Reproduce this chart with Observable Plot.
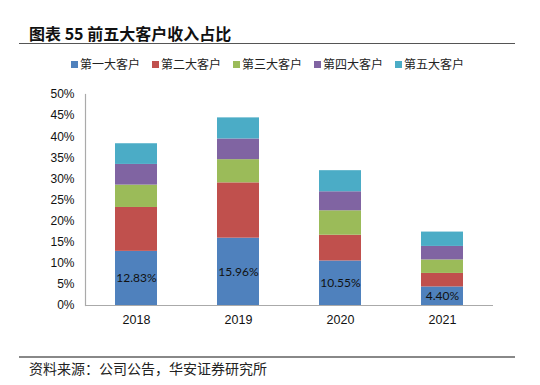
<!DOCTYPE html>
<html><head><meta charset="utf-8">
<script src="https://cdn.jsdelivr.net/npm/d3@7"></script>
<script src="https://cdn.jsdelivr.net/npm/@observablehq/plot@0.6"></script>
<style>
body{margin:0;background:#fff;}
#wrap{position:relative;width:540px;height:385px;overflow:hidden;font-family:"Noto Sans CJK SC",sans-serif;}
.abs{position:absolute;}
#title{left:29px;top:24px;font-size:16px;line-height:18px;font-weight:bold;color:#111;white-space:nowrap;}
#rule1{left:19px;top:42.5px;width:496px;height:1.5px;background:#555;}
#legend{left:71px;top:57px;display:flex;gap:12px;font-size:12px;line-height:14px;color:#222;white-space:nowrap;}
#legend .it{display:flex;align-items:center;gap:2px;}
#legend .sw{width:7px;height:7px;display:inline-block;}
#chart{left:0;top:80px;}
#rule2{left:19px;top:356px;width:496px;height:1.5px;background:#888;}
#source{left:29px;top:360px;font-size:14px;line-height:16px;color:#222;white-space:nowrap;}
</style></head>
<body>
<div id="wrap">
  <div id="title" class="abs">图表 55 前五大客户收入占比</div>
  <div id="rule1" class="abs"></div>
  <div id="legend" class="abs"></div>
  <div id="chart" class="abs"></div>
  <div id="rule2" class="abs"></div>
  <div id="source" class="abs">资料来源：公司公告，华安证券研究所</div>
</div>
<script>
const years = ["2018", "2019", "2020", "2021"];
const seriesNames = ["第一大客户", "第二大客户", "第三大客户", "第四大客户", "第五大客户"];
const seriesColors = ["#4F81BD", "#C0504D", "#9BBB59", "#8064A2", "#4BACC6"];
const top1 = [12.83, 15.96, 10.55, 4.40];
const top2 = [10.4, 13.1, 6.1, 3.2];
const top3 = [5.3, 5.5, 5.8, 3.2];
const top4 = [4.9, 4.9, 4.5, 3.2];
const top5 = [4.9, 5.0, 5.0, 3.4];
const yTicks = [0, 5, 10, 15, 20, 25, 30, 35, 40, 45, 50];

const seriesValues = [top1, top2, top3, top4, top5];
const data = [];
seriesNames.forEach((s, i) => years.forEach((y, j) => data.push({year: y, series: s, value: seriesValues[i][j]})));
const labels = years.map((y, j) => ({year: y, value: top1[j]}));

// legend
const leg = document.getElementById("legend");
seriesNames.forEach((s, i) => {
  const it = document.createElement("div"); it.className = "it";
  const sw = document.createElement("span"); sw.className = "sw"; sw.style.background = seriesColors[i];
  const tx = document.createElement("span"); tx.textContent = s;
  it.appendChild(sw); it.appendChild(tx); leg.appendChild(it);
});

const chart = Plot.plot({
  width: 540,
  height: 250,
  marginTop: 14,
  marginBottom: 25,
  marginLeft: 85,
  marginRight: 47,
  style: {fontFamily: "'Liberation Sans', Arial, sans-serif", fontSize: "12px", color: "#111", background: "#fff"},
  x: {domain: years, paddingInner: 0.59, paddingOuter: 0.295, label: null},
  y: {domain: [0, 50], label: null},
  color: {domain: seriesNames, range: seriesColors},
  marks: [
    Plot.barY(data, {x: "year", y: "value", fill: "series"}),
    Plot.text(labels, {x: "year", y: d => d.value / 2, text: d => d.value.toFixed(2) + "%", fontFamily: "Lato, sans-serif", fontSize: 12, fill: "#111"}),
    Plot.axisY({ticks: yTicks, tickFormat: d => d + "%", tickSize: 0, tickPadding: 11, label: null}),
    Plot.axisX({tickSize: 0, tickPadding: 10, label: null, fontSize: 12.5}),
    Plot.ruleY([0], {stroke: "#aaa", strokeWidth: 1.2}),
    Plot.frame({anchor: "left", stroke: "#aaa", strokeWidth: 1.2})
  ]
});
document.getElementById("chart").appendChild(chart);
</script>
</body></html>
